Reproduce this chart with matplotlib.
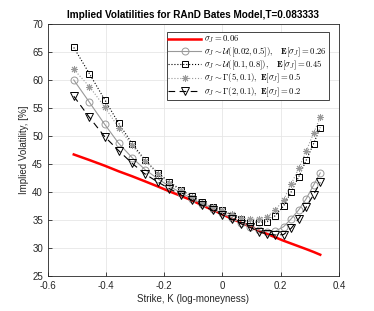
import numpy as np
import matplotlib
matplotlib.use('Agg')
import matplotlib.pyplot as plt

# strikes in log-moneyness
strike = [-0.511, -0.457, -0.405, -0.357, -0.310, -0.266, -0.223, -0.182, -0.143,
          -0.105, -0.069, -0.034, 0.000, 0.033, 0.065, 0.095, 0.125, 0.154,
          0.182, 0.210, 0.236, 0.262, 0.288, 0.313, 0.336]

# implied vols [%]
iv_const = [46.7, 45.7, 44.7, 43.7, 42.8, 41.9, 41.0, 40.1, 39.3, 38.5, 37.6, 36.8,
            36.0, 35.2, 34.5, 33.8, 33.1, 32.5, 31.9, 31.3, 30.8, 30.3, 29.8, 29.3, 28.8]
iv_unif1 = [60.0, 56.0, 52.1, 48.7, 46.1, 44.0, 42.4, 41.0, 39.9, 38.8, 37.9, 37.0,
            36.2, 35.3, 34.5, 33.8, 33.2, 32.9, 33.0, 33.8, 35.2, 36.8, 38.8, 41.2, 43.4]
iv_unif2 = [65.8, 61.1, 56.5, 52.3, 48.6, 45.7, 43.4, 41.8, 40.4, 39.2, 38.2, 37.3,
            36.7, 35.8, 35.1, 34.7, 34.6, 34.7, 35.8, 37.5, 40.0, 42.7, 45.7, 48.6, 51.5]
iv_gam1 = [61.9, 58.8, 55.2, 51.5, 48.3, 45.5, 43.3, 41.6, 40.3, 39.1, 38.1, 37.3,
           36.7, 36.0, 35.4, 35.1, 35.2, 35.6, 36.8, 38.6, 41.4, 44.2, 47.3, 50.5, 53.3]
iv_gam2 = [57.1, 53.3, 49.9, 47.4, 45.1, 43.2, 41.8, 40.6, 39.5, 38.5, 37.6, 36.7,
           35.9, 35.1, 34.3, 33.7, 32.9, 32.5, 32.3, 32.4, 33.5, 35.2, 37.3, 39.5, 41.7]

plt.rcParams['font.family'] = ['Liberation Sans', 'DejaVu Sans']
plt.rcParams['mathtext.fontset'] = 'cm'

fig = plt.figure(figsize=(3.74, 3.11), dpi=100)
ax = fig.add_axes([0.128, 0.1125, 0.778, 0.8105])

ax.plot(strike, iv_const, color='red', lw=1.8, label=r'$\sigma_J=0.06$')
ax.plot(strike, iv_unif1, color='0.6', lw=0.8, marker='o', ms=5, mfc='none', mew=0.7,
        label=r'$\sigma_J\sim\mathcal{U}([0.02,0.5]),\quad\mathbf{E}[\sigma_J]=0.26$')
ax.plot(strike, iv_unif2, color='k', lw=0.8, ls=':', marker='s', ms=3.8, mfc='none', mew=0.7,
        label=r'$\sigma_J\sim\mathcal{U}([0.1,0.8]),\quad\mathbf{E}[\sigma_J]=0.45$')
ax.plot(strike, iv_gam1, color='0.6', lw=0.8, ls=':', marker=(8, 2, 0), ms=5, mew=0.7,
        label=r'$\sigma_J\sim\Gamma(5,0.1),\ \mathbf{E}[\sigma_J]=0.5$')
ax.plot(strike, iv_gam2, color='k', lw=0.8, ls=(0, (6, 4)), marker='v', ms=5.5, mfc='none', mew=0.7,
        label=r'$\sigma_J\sim\Gamma(2,0.1),\ \mathbf{E}[\sigma_J]=0.2$')

ax.set_xlim(-0.6, 0.4)
ax.set_ylim(25, 70)
ax.set_xticks([-0.6, -0.4, -0.2, 0, 0.2, 0.4])
ax.set_xticklabels(['-0.6', '-0.4', '-0.2', '0', '0.2', '0.4'])
ax.set_yticks(np.arange(25, 71, 5))
ax.grid(True, color='0.9', lw=0.6)
ax.tick_params(direction='in', labelsize=7, colors='0.15', length=3, width=0.6)
for s in ax.spines.values():
    s.set_color('0.15')
    s.set_linewidth(0.6)

ax.set_xlabel('Strike, K (log-moneyness)', fontsize=7, color='0.15', labelpad=2)
ax.set_ylabel('Implied Volatility, [%]', fontsize=7, color='0.15', labelpad=2)
ax.set_title('Implied Volatilities for RAnD Bates Model,T=0.083333', fontsize=7.2,
             fontweight='bold', pad=4)

leg = ax.legend(loc='upper right', fontsize=6.2, handlelength=3.8, handletextpad=0.4,
                borderpad=0.2, labelspacing=0.0, fancybox=False, framealpha=1,
                edgecolor='0.15', bbox_to_anchor=(0.98, 0.985))
leg.get_frame().set_linewidth(0.6)

fig.savefig('out.png', dpi=100)
